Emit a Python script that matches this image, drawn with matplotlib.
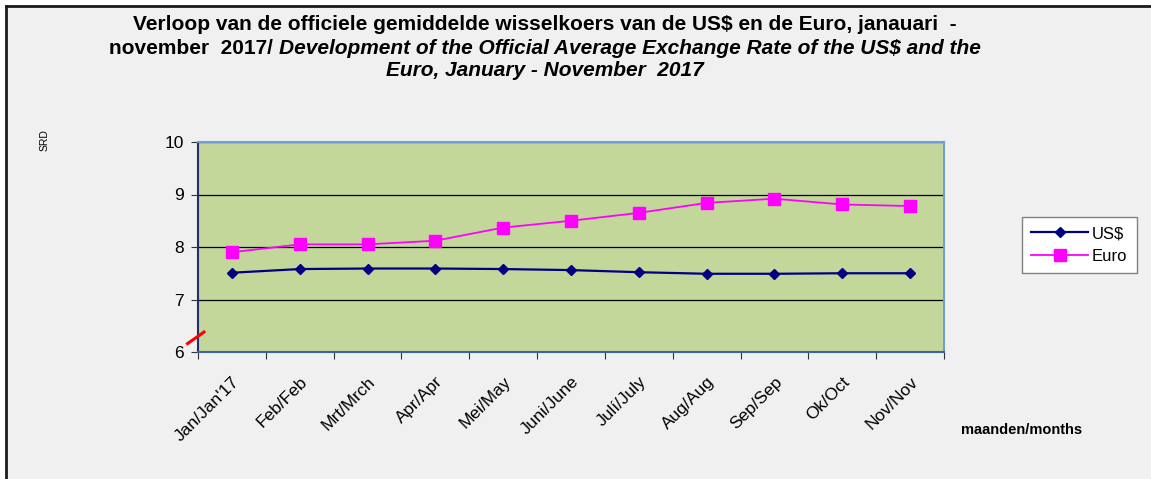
import numpy as np
import matplotlib
matplotlib.use("Agg")
import matplotlib.pyplot as plt
from matplotlib.lines import Line2D
from matplotlib.patches import Rectangle

months = ["Jan/Jan'17", "Feb/Feb", "Mrt/Mrch", "Apr/Apr", "Mei/May", "Juni/June",
          "Julí/July", "Aug/Aug", "Sep/Sep", "Ok/Oct", "Nov/Nov"]
usd = [7.51, 7.58, 7.59, 7.59, 7.58, 7.56, 7.52, 7.49, 7.49, 7.50, 7.50]
euro = [7.90, 8.05, 8.05, 8.12, 8.37, 8.50, 8.65, 8.84, 8.92, 8.81, 8.78]
yticks = [6, 7, 8, 9, 10]

plt.rcParams["font.family"] = ["Liberation Sans", "DejaVu Sans"]

W, H = 1151, 479
fig = plt.figure(figsize=(W / 100, H / 100), dpi=100, facecolor="white")

# grey chart area with black border on top and left
fig.patches.append(Rectangle((6 / W, 0), 1, 1 - 6 / H, transform=fig.transFigure,
                             facecolor="#f0f0f0", edgecolor="none", zorder=-10))
fig.lines.append(Line2D([6 / W, 1], [1 - 6 / H, 1 - 6 / H], transform=fig.transFigure,
                        color="#1a1a1a", lw=2, zorder=-5))
fig.lines.append(Line2D([6 / W, 6 / W], [0, 1 - 6 / H], transform=fig.transFigure,
                        color="#1a1a1a", lw=2, zorder=-5))

ax = fig.add_axes([198 / W, 1 - 352 / H, (944 - 198) / W, (352 - 142) / H])
ax.set_facecolor("#c4d79b")

x = np.arange(len(months))
ax.plot(x, usd, color="#000080", lw=1.6, marker="D", ms=5.5, label="US$", zorder=3)
ax.plot(x, euro, color="#ff00ff", lw=1.3, marker="s", ms=8, label="Euro", zorder=3)

ax.set_xlim(-0.5, len(months) - 0.5)
ax.set_ylim(6, 10)
ax.set_yticks(yticks)
ax.set_yticklabels([str(v) for v in yticks], fontsize=12.5)
ax.grid(axis="y", color="black", lw=0.9)
ax.set_axisbelow(True)

ax.set_xticks(np.arange(len(months) + 1) - 0.5)
ax.set_xticklabels([])
ax.set_xticks(x, minor=True)
ax.set_xticklabels(months, minor=True, rotation=45, ha="right", va="top",
                   rotation_mode="anchor", fontsize=12.5)
ax.tick_params(axis="x", which="minor", length=0, pad=16)
ax.tick_params(axis="x", which="major", length=5, direction="out", color="#333333")
ax.tick_params(axis="y", length=5, direction="out", color="#333333", pad=5)

ax.spines["left"].set_color("#1f2f6a")
ax.spines["bottom"].set_color("#3b64a8")
ax.spines["top"].set_color("#6f9fd8")
ax.spines["right"].set_color("#6f9fd8")
for s in ax.spines.values():
    s.set_linewidth(1.5)

# red break mark near the y-axis
ax.add_line(Line2D([-0.014, 0.008], [0.04, 0.095], transform=ax.transAxes,
                   color="red", lw=2.2, clip_on=False, zorder=5))

fig.legend(loc="center left", bbox_to_anchor=(1022 / W, 1 - 245 / H), frameon=True,
           fancybox=False, edgecolor="#808080", facecolor="white", framealpha=1,
           fontsize=12, handlelength=3.4, borderpad=0.55, labelspacing=0.45,
           handletextpad=0.25, borderaxespad=0)

fig.text(45 / W, 1 - 140 / H, "SRD", rotation=90, fontsize=7.5, ha="center", va="center")
fig.text(1022 / W, 1 - 430 / H, "maanden/months", fontsize=10.5, fontweight="bold",
         ha="center", va="center")

# title with mixed upright / italic segments
title_lines = [
    [("Verloop van de officiele gemiddelde wisselkoers van de US$ en de Euro, janauari  -", "normal")],
    [("november  2017/ ", "normal"),
     ("Development of the Official Average Exchange Rate of the US$ and the", "italic")],
    [("Euro, January - November  2017", "italic")],
]
title_y = [25, 48, 71]
cx = 545
renderer = fig.canvas.get_renderer()
for segs, ty in zip(title_lines, title_y):
    texts = [fig.text(0, 1 - ty / H, s, fontsize=15, fontweight="bold", fontstyle=st,
                      ha="left", va="center") for s, st in segs]
    widths = [t.get_window_extent(renderer).width for t in texts]
    start = cx - sum(widths) / 2
    for t, w in zip(texts, widths):
        t.set_x(start / W)
        start += w

fig.savefig("out.png", dpi=100, facecolor=fig.get_facecolor())
